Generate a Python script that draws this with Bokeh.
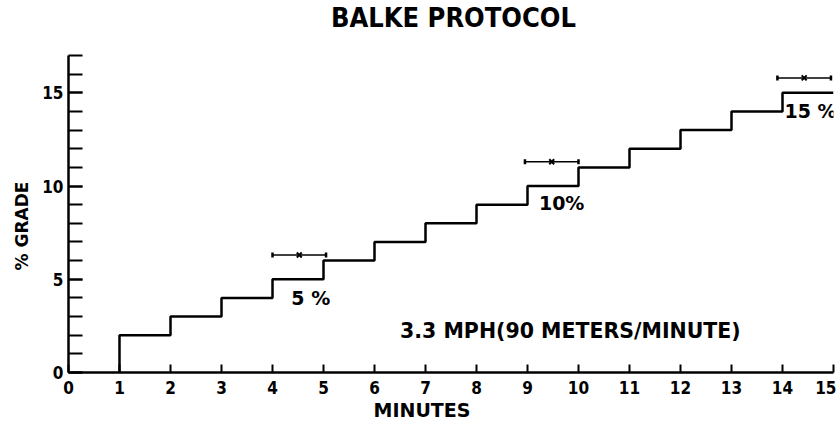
from bokeh.plotting import figure
from bokeh.models import FixedTicker, Range1d, Title
from bokeh.core.properties import value
from bokeh.embed import file_html
from bokeh.resources import INLINE

# Data
minutes = [1, 2, 3, 4, 5, 6, 7, 8, 9, 10, 11, 12, 13, 14]
grade = [2, 3, 4, 5, 6, 7, 8, 9, 10, 11, 12, 13, 14, 15]
end_minute = 15

stage_labels = ["5 %", "10%", "15 %"]
stage_label_x = [4.75, 9.67, 14.55]
stage_label_y = [3.97, 9.1, 14.0]

bracket_x0 = [4.0, 8.95, 13.9]
bracket_x1 = [5.05, 10.0, 14.95]
bracket_y = [6.3, 11.3, 15.8]

speed_text = ["3.3 MPH(90 METERS/MINUTE)"]
speed_x = [9.84]
speed_y = [2.25]

title_text = ["BALKE  PROTOCOL"]
title_x = [7.63]
title_y = [19.03]

x_ticks = list(range(0, 16))
y_ticks = [0, 5, 10, 15]
y_minor = list(range(0, 18))
y_axis_top = 17

FONT_C = "DejaVu Sans Condensed"
FONT = "DejaVu Sans"

p = figure(width=836, height=426, output_backend="svg", toolbar_location=None,
           x_range=Range1d(0, 15), y_range=Range1d(0, 19.95),
           min_border_left=68, min_border_right=3, min_border_bottom=54, min_border_top=0)

p.outline_line_color = None
p.xgrid.visible = False
p.ygrid.visible = False

# chart title
p.text(title_x, title_y, text=title_text, text_font=value(FONT_C),
       text_font_size="27px", text_font_style="bold", text_align="center", text_baseline="middle",
       text_color="black")

# stairs
sx = [minutes[0]] + minutes + [end_minute]
sy = [0] + grade + [grade[-1]]
p.step(sx, sy, mode="after", line_color="black", line_width=2.5)

# brackets
p.segment(x0=bracket_x0, y0=bracket_y, x1=bracket_x1, y1=bracket_y, line_color="black", line_width=1.5)
p.scatter(bracket_x0 + bracket_x1, bracket_y + bracket_y, marker="dash", angle=1.5708,
          size=5, line_color="black", line_width=2.5)
p.scatter([(a + b) / 2 for a, b in zip(bracket_x0, bracket_x1)], bracket_y, marker="x",
          size=7, line_color="black", line_width=2)

p.text(stage_label_x, stage_label_y, text=stage_labels, text_font=value(FONT),
       text_font_size="19px", text_font_style="bold", text_align="center", text_baseline="middle",
       text_color="black")
p.text(speed_x, speed_y, text=speed_text, text_font=value(FONT),
       text_font_size="20.5px", text_font_style="bold", text_align="center", text_baseline="middle",
       text_color="black")

for ax in (p.xaxis[0], p.yaxis[0]):
    ax.axis_line_width = 2.5
    ax.axis_line_color = "black"
    ax.major_tick_line_width = 2
    ax.minor_tick_line_width = 2
    ax.major_tick_out = 0
    ax.minor_tick_out = 0
    ax.major_label_text_font = FONT_C
    ax.major_label_text_font_size = "17px"
    ax.major_label_text_font_style = "bold"
    ax.major_label_text_color = "black"

p.xaxis.ticker = FixedTicker(ticks=x_ticks, minor_ticks=[])
p.xaxis.major_tick_in = 8
p.xaxis.major_label_standoff = 8

p.yaxis.ticker = FixedTicker(ticks=y_ticks, minor_ticks=y_minor)
p.yaxis.bounds = (0, y_axis_top)
p.yaxis.major_tick_in = 14
p.yaxis.minor_tick_in = 14
p.yaxis.major_label_standoff = 5

# axis titles as side titles, shifted to match the original off-centre positions
p.add_layout(Title(text="MINUTES", align="left", offset=305, standoff=0,
                   text_font=FONT, text_font_size="19px", text_font_style="bold",
                   text_color="black"), "below")
p.add_layout(Title(text="% GRADE", align="left", offset=102, standoff=16,
                   text_font=FONT, text_font_size="17px", text_font_style="bold",
                   text_color="black"), "left")

open("out.html", "w").write(file_html(p, INLINE))
